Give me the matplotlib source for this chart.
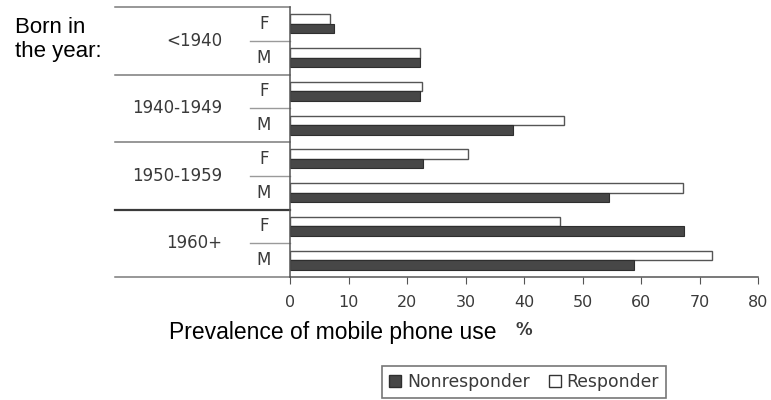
import matplotlib
matplotlib.use("Agg")
import matplotlib.pyplot as plt
from matplotlib.patches import Patch
import matplotlib.transforms as mtransforms

plt.rcParams['font.family'] = ['Liberation Sans', 'DejaVu Sans']
GRAYFONT = ['DejaVu Sans']

# data (percent), rows top to bottom: group x sex
groups = ["<1940", "1940-1949", "1950-1959", "1960+"]
sexes = ["F", "M"]
nonresponder = [7.6, 22.3, 22.3, 38.1, 22.7, 54.6, 67.3, 58.8]
responder = [6.9, 22.2, 22.6, 46.8, 30.4, 67.2, 46.1, 72.1]
xticks = [0, 10, 20, 30, 40, 50, 60, 70, 80]

DARK = "#474747"
TXT = "#3a3a3a"
W, H = 771, 400
fig = plt.figure(figsize=(W/100, H/100), dpi=100)
ax = fig.add_axes([290/W, 1-277/H, (758-290)/W, 270/H])

rows = list(range(len(nonresponder)))
bh = 0.28
ax.barh([r - bh/2 for r in rows], responder, height=bh, color="white",
        edgecolor="#555555", lw=1.0)
ax.barh([r + bh/2 for r in rows], nonresponder, height=bh, color=DARK,
        edgecolor="#2e2e2e", lw=0.8)

ax.set_ylim(len(rows) - 0.5, -0.5)
ax.set_xlim(0, 80)
ax.set_xticks(xticks)
ax.set_xticklabels([str(t) for t in xticks], fontsize=11.5, color=TXT, family=GRAYFONT)
ax.set_yticks([])
for s in ["top", "right"]:
    ax.spines[s].set_visible(False)
for s in ["left", "bottom"]:
    ax.spines[s].set_color("#555555")
    ax.spines[s].set_linewidth(1.1)
ax.tick_params(axis='x', length=5, color="#555555", pad=8)

# left-hand table of birth cohorts and sex
tr = mtransforms.blended_transform_factory(ax.transAxes, ax.transData)
x_tab = (115-290)/468
x_sex = (250-290)/468
for g in range(len(groups) + 1):
    y = 2*g - 0.5
    dark = (g == 3)
    ax.plot([x_tab, 0], [y, y], transform=tr, clip_on=False,
            color="#3a3a3a" if dark else "#7a7a7a", lw=1.6 if dark else 1.1)
for g, name in enumerate(groups):
    y = 2*g + 0.5
    ax.plot([x_sex, 0], [y, y], transform=tr, clip_on=False, color="#9a9a9a", lw=1.0)
    ax.text((222-290)/468, y, name, transform=tr, ha="right", va="center",
            fontsize=12, color=TXT, family=GRAYFONT)
    for k, sx in enumerate(sexes):
        ax.text((264-290)/468, 2*g + k, sx, transform=tr, ha="center", va="center",
                fontsize=12, color=TXT, family=GRAYFONT)

fig.text(15/W, 1-33/H, "Born in", fontsize=16, ha="left", va="baseline")
fig.text(15/W, 1-57/H, "the year:", fontsize=16, ha="left", va="baseline")
fig.text(169/W, 1-339/H, "Prevalence of mobile phone use", fontsize=16.5,
         ha="left", va="baseline")
fig.text(515/W, 1-335/H, "%", fontsize=12, ha="left", va="baseline", color=TXT,
         weight="bold", family=GRAYFONT)

handles = [Patch(facecolor=DARK, edgecolor="#2e2e2e"),
           Patch(facecolor="white", edgecolor="#333333")]
leg = fig.legend(handles, ["Nonresponder", "Responder"], loc="center",
                 bbox_to_anchor=(524/W, 1-382/H), ncol=2,
                 prop={'family': GRAYFONT, 'size': 12.4},
                 frameon=True, fancybox=False, handlelength=0.7, handleheight=0.7,
                 handletextpad=0.35, columnspacing=1.1, borderpad=0.4)
leg.get_frame().set_edgecolor("#555555")
leg.get_frame().set_linewidth(1.2)
for t in leg.get_texts():
    t.set_color(TXT)

fig.savefig("out.png", dpi=100)
